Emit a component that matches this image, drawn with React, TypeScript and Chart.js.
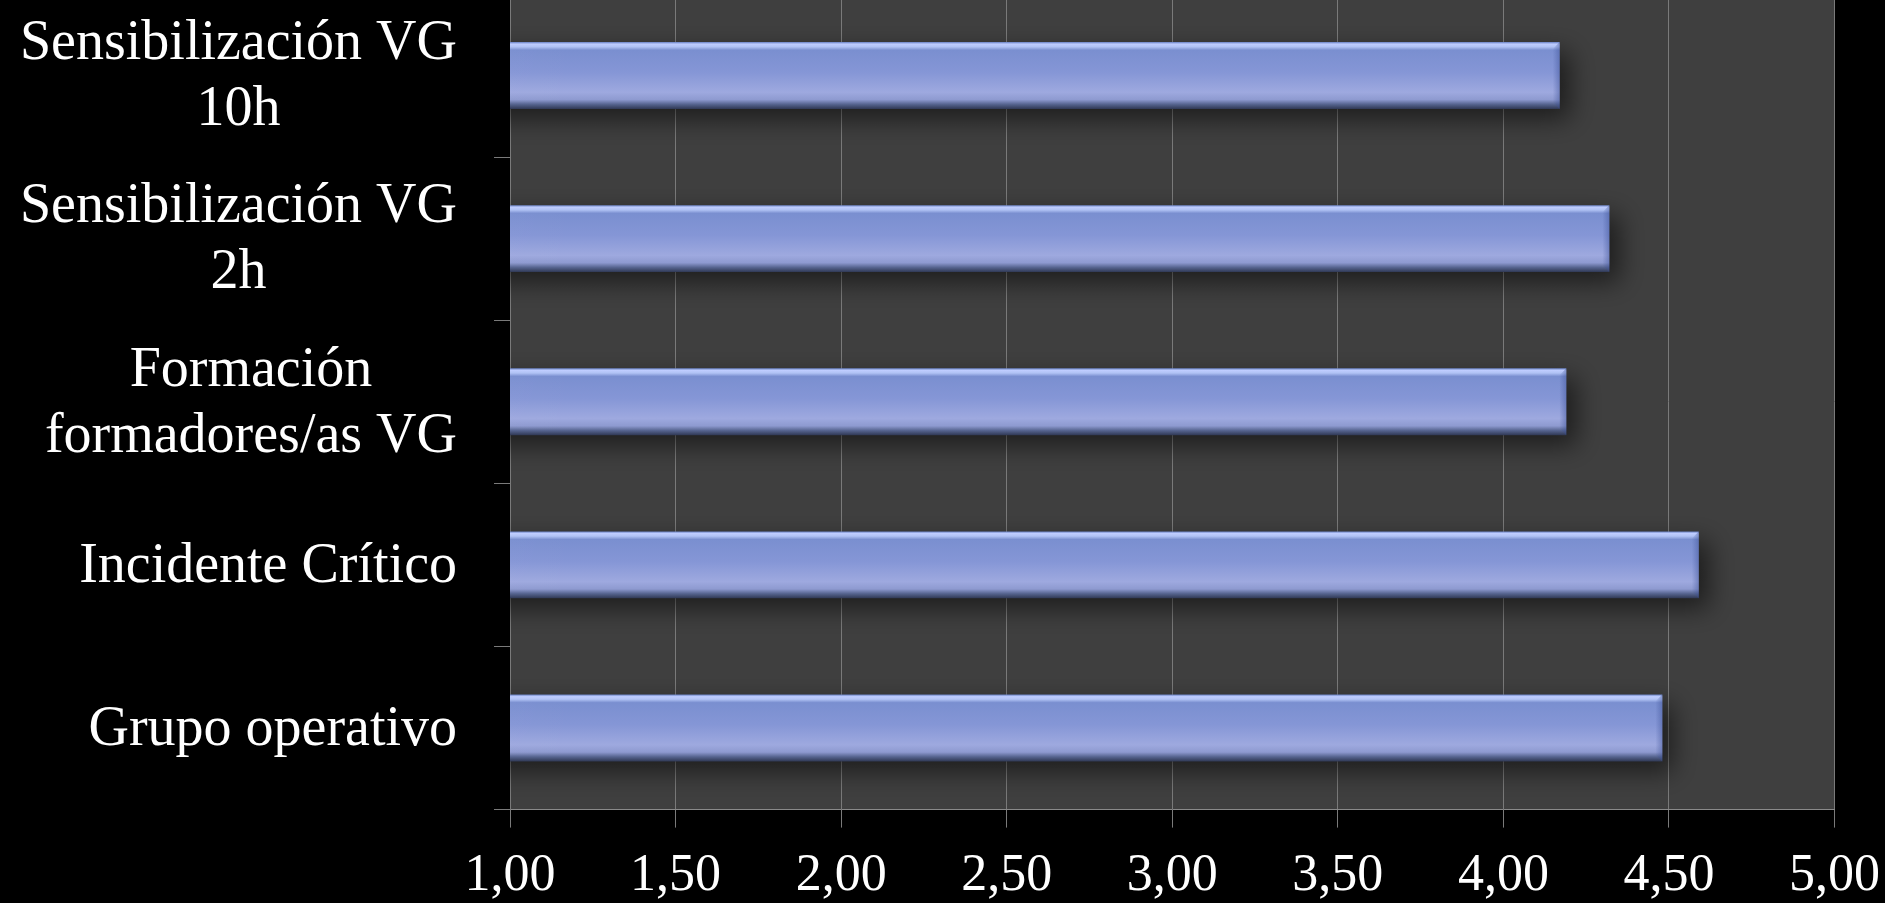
import { useEffect, useRef } from "react";
import { Chart, registerables } from "chart.js";

Chart.register(...registerables);

// ---- data ----
const categories: string[][] = [
  ["Sensibilización VG", "10h"],
  ["Sensibilización VG", "2h"],
  ["Formación", "formadores/as VG"],
  ["Incidente Crítico"],
  ["Grupo operativo"],
];
const values: number[] = [4.17, 4.32, 4.19, 4.59, 4.48];
const xTickValues: number[] = [1, 1.5, 2, 2.5, 3, 3.5, 4, 4.5, 5];
const xTickLabels: string[] = ["1,00", "1,50", "2,00", "2,50", "3,00", "3,50", "4,00", "4,50", "5,00"];

const FONT = "'Liberation Serif', 'DejaVu Serif', serif";
const BAR_FRACTION = 0.41;
const GRID = "#7a7a7a";

const barFill = (ctx: any) => {
  const chart = ctx.chart;
  const area = chart.chartArea;
  if (!area || !chart.scales.y) return "#8797d5";
  const c = chart.scales.y.getPixelForValue(ctx.dataIndex);
  const band = (area.bottom - area.top) / categories.length;
  const h = band * BAR_FRACTION;
  const g = chart.ctx.createLinearGradient(0, c - h / 2, 0, c + h / 2);
  g.addColorStop(0.0, "#6c84c6");
  g.addColorStop(0.03, "#bfcdff");
  g.addColorStop(0.07, "#b0c2f4");
  g.addColorStop(0.12, "#7a8fd0");
  g.addColorStop(0.45, "#8596d6");
  g.addColorStop(0.75, "#9ea9df");
  g.addColorStop(0.86, "#8e9ad0");
  g.addColorStop(0.93, "#56648f");
  g.addColorStop(1.0, "#2f3854");
  return g;
};

const plotBg = {
  id: "plotBg",
  beforeDraw(chart: any) {
    const { ctx, chartArea: a } = chart;
    ctx.save();
    ctx.fillStyle = "#3f3f3f";
    ctx.fillRect(a.left, a.top, a.right - a.left, a.bottom - a.top);
    ctx.restore();
  },
};

const barShadow = {
  id: "barShadow",
  beforeDatasetsDraw(chart: any) {
    const c = chart.ctx;
    c.save();
    c.shadowColor = "rgba(0,0,0,0.55)";
    c.shadowBlur = 26;
    c.shadowOffsetX = 10;
    c.shadowOffsetY = 10;
  },
  afterDatasetsDraw(chart: any) {
    chart.ctx.restore();
    // bevel at the right end of each bar, from the bar element geometry
    const ctx = chart.ctx;
    const a = chart.chartArea;
    const meta = chart.getDatasetMeta(0);
    ctx.save();
    ctx.beginPath();
    ctx.rect(a.left, a.top, a.right - a.left, a.bottom - a.top);
    ctx.clip();
    meta.data.forEach((el: any) => {
      const { x, y, base, height } = el.getProps(["x", "y", "base", "height"], true);
      const top = y - height / 2;
      const bev = 7;
      const g = ctx.createLinearGradient(x - bev, 0, x, 0);
      g.addColorStop(0, "rgba(60,80,150,0.0)");
      g.addColorStop(1, "rgba(60,80,150,0.45)");
      ctx.fillStyle = g;
      ctx.beginPath();
      ctx.moveTo(x - bev, top + bev);
      ctx.lineTo(x, top);
      ctx.lineTo(x, top + height);
      ctx.lineTo(x - bev, top + height - bev);
      ctx.closePath();
      ctx.fill();
      const left = Math.min(base, x);
      const w = Math.min(400, Math.abs(x - base));
      const lg = ctx.createLinearGradient(left, 0, left + w, 0);
      lg.addColorStop(0, "rgba(255,255,255,0.10)");
      lg.addColorStop(1, "rgba(255,255,255,0)");
      ctx.fillStyle = lg;
      ctx.fillRect(left, top + height * 0.12, w, height * 0.78);
    });
    ctx.restore();
  },
};

const catLabels = {
  id: "catLabels",
  afterDraw(chart: any) {
    const { ctx, chartArea } = chart;
    const ys = chart.scales.y;
    const lh = 66;
    const right = chartArea.left - 53;
    ctx.save();
    ctx.font = `56px ${FONT}`;
    ctx.fillStyle = "#ffffff";
    ctx.textAlign = "center";
    ctx.textBaseline = "middle";
    (chart.data.labels as string[][]).forEach((lines, i) => {
      const y = ys.getPixelForValue(i) + 2;
      const w = Math.max(...lines.map((l) => ctx.measureText(l).width));
      const cx = right - w / 2;
      lines.forEach((l, k) => {
        ctx.fillText(l, cx, y + (k - (lines.length - 1) / 2) * lh);
      });
    });
    ctx.restore();
  },
};

function BarChart() {
  const ref = useRef<HTMLCanvasElement | null>(null);
  useEffect(() => {
    if (!ref.current) return;
    const chart = new Chart(ref.current, {
      type: "bar",
      data: {
        labels: categories as any,
        datasets: [
          {
            data: values,
            backgroundColor: barFill as any,
            borderWidth: 0,
            categoryPercentage: 1,
            barPercentage: BAR_FRACTION,
          },
        ],
      },
      options: {
        indexAxis: "y",
        animation: false,
        responsive: true,
        maintainAspectRatio: false,
        layout: { padding: { top: 0, right: 0, bottom: 0, left: 0 } },
        plugins: { legend: { display: false }, tooltip: { enabled: false } },
        scales: {
          x: {
            type: "linear",
            min: 1,
            max: 5,
            afterBuildTicks: (axis: any) => {
              axis.ticks = xTickValues.map((v) => ({ value: v }));
            },
            ticks: {
              color: "#ffffff",
              font: { family: FONT, size: 52 },
              padding: 18,
              callback: (_v: any, i: number) => xTickLabels[i],
              maxRotation: 0,
              autoSkip: false,
            },
            grid: { color: GRID, tickLength: 18, tickColor: GRID, lineWidth: 1 },
            border: { color: "#8a8a8a" },
          },
          y: {
            type: "category",
            ticks: { display: false },
            grid: { drawOnChartArea: false, tickLength: 16, color: GRID, offset: true },
            border: { color: GRID },
            afterFit: (scale: any) => {
              scale.width = 510;
            },
          },
        },
      },
      plugins: [plotBg, barShadow, catLabels],
    });
    return () => chart.destroy();
  }, []);
  return (
    <div style={{ position: "absolute", left: 0, top: -6, width: 1898, height: 932 }}>
      <canvas ref={ref} />
    </div>
  );
}

export default function App() {
  return (
    <div
      style={{
        position: "fixed",
        left: 0,
        top: 0,
        width: 1885,
        height: 903,
        background: "#000",
        overflow: "hidden",
      }}
    >
      <BarChart />
    </div>
  );
}
